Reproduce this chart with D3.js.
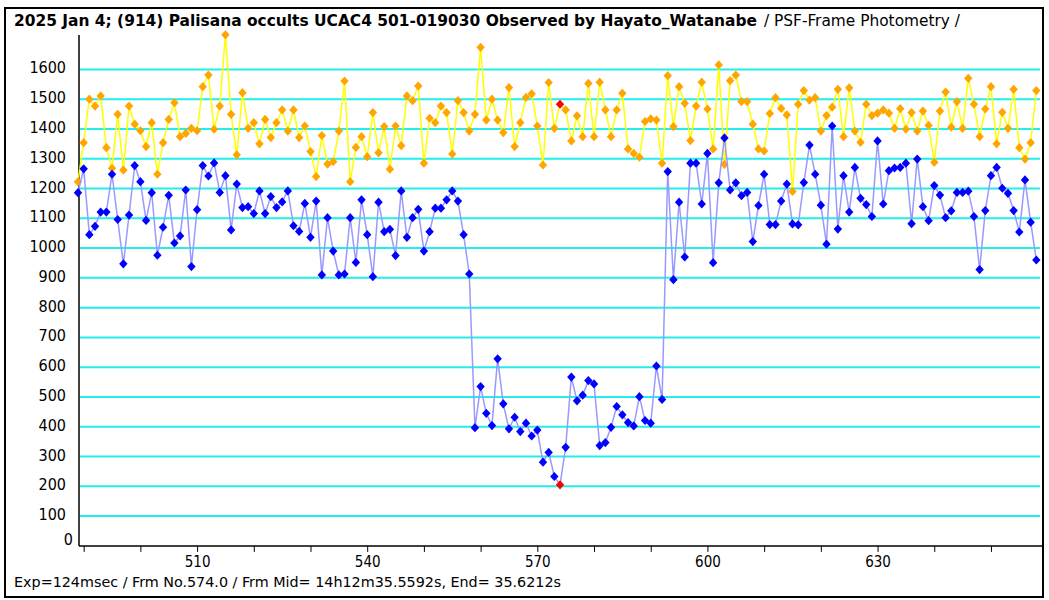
<!DOCTYPE html>
<html>
<head>
<meta charset="utf-8">
<script src="https://cdn.jsdelivr.net/npm/d3@7"></script>
<style>
  body { margin: 0; background: #fff; }
  text { font-family: "DejaVu Sans Condensed", "DejaVu Sans", sans-serif; fill: #000; }
</style>
</head>
<body>
<script>
// frames 489 .. 658, one value per frame
var firstFrame = 489;
var markFrame = 574;                       // highlighted frame (red)

var blueFlux = [
    1186,1266,1045,1073,1121,1121,1248,1096,947,1111,1277,1223,1093,1186,976,1070,1177,1017,1041,1195,
    938,1129,1277,1242,1286,1187,1243,1061,1215,1136,1139,1116,1192,1116,1173,1136,1155,1192,1075,1056,
    1150,1036,1158,910,1102,990,910,913,1102,952,1162,1045,904,1154,1055,1063,975,1192,1036,1102,
    1130,990,1055,1134,1134,1162,1192,1158,1045,913,397,535,445,404,628,477,393,432,384,412,
    369,389,281,314,233,205,331,567,487,506,555,544,337,347,398,468,440,414,403,501,
    421,412,604,492,1257,894,1154,970,1285,1285,1148,1318,951,1219,1370,1195,1219,1176,1187,1022,
    1143,1248,1079,1079,1158,1215,1081,1078,1220,1346,1248,1144,1013,1410,1064,1243,1121,1271,1167,1146,
    1106,1360,1148,1260,1269,1271,1285,1082,1299,1139,1092,1210,1178,1102,1125,1187,1187,1191,1106,928,
    1126,1243,1271,1201,1184,1126,1054,1229,1087,960
];

var orangeFlux = [
    1223,1354,1500,1477,1511,1337,1268,1449,1262,1477,1416,1394,1341,1421,1248,1354,1432,1488,1374,1385,
    1402,1394,1542,1581,1399,1477,1716,1449,1313,1522,1402,1421,1350,1432,1371,1421,1464,1393,1464,1371,
    1410,1324,1240,1378,1282,1290,1393,1561,1223,1338,1374,1307,1455,1320,1408,1265,1410,1344,1511,1495,
    1544,1285,1436,1421,1477,1455,1316,1495,1455,1393,1449,1674,1430,1500,1430,1388,1539,1341,1421,1506,
    1518,1410,1279,1556,1402,1483,1464,1360,1444,1374,1553,1374,1557,1464,1374,1464,1520,1333,1318,1305,
    1425,1434,1430,1285,1579,1408,1542,1486,1361,1477,1557,1467,1333,1615,1281,1562,1581,1492,1492,1416,
    1333,1326,1452,1505,1469,1447,1190,1483,1529,1497,1505,1393,1445,1473,1533,1374,1538,1393,1355,1483,
    1445,1453,1464,1453,1402,1468,1399,1455,1393,1460,1412,1288,1460,1524,1406,1492,1402,1570,1483,1374,
    1467,1542,1350,1456,1402,1533,1337,1299,1354,1529
];

var yTickValues = [0,100,200,300,400,500,600,700,800,900,1000,1100,1200,1300,1400,1500,1600];
var xTickValues = [490,500,510,520,530,540,550,560,570,580,590,600,610,620,630,640,650];
var xTickLabels = [510,540,570,600,630];

var titleBold = "2025 Jan 4; (914) Palisana occults UCAC4 501-019030 Observed by Hayato_Watanabe";
var titleRest = "/ PSF-Frame Photometry /";
var footer = "Exp=124msec / Frm No.574.0 / Frm Mid= 14h12m35.5592s,  End= 35.6212s";

window.onload = function(){

    var w = 1049, h = 600;
    var axisX = 79, axisY = 545.9;

    var svg = d3.select("body")
        .append("svg")
        .attr("width", w)
        .attr("height", h);

    // outer frame
    svg.append("rect")
        .attr("x", 5).attr("y", 8)
        .attr("width", 1038).attr("height", 589)
        .attr("fill", "#fff")
        .attr("stroke", "#000")
        .attr("stroke-width", 2);

    var x = d3.scaleLinear()
        .domain([firstFrame, firstFrame + 170])
        .range([78, 1042]);

    var y = d3.scaleLinear()
        .domain([0, 1600])
        .range([axisY, 69.4]);

    // horizontal grid
    svg.selectAll(".grid")
        .data(yTickValues.filter(function(d){ return d > 0; }))
        .enter()
        .append("line")
        .attr("class", "grid")
        .attr("x1", axisX + 1)
        .attr("x2", 1040)
        .attr("y1", function(d){ return y(d); })
        .attr("y2", function(d){ return y(d); })
        .attr("stroke", "#22EEEE")
        .attr("stroke-width", 2);

    // y labels
    svg.selectAll(".ylab")
        .data(yTickValues)
        .enter()
        .append("text")
        .attr("class", "ylab")
        .attr("text-anchor", "end")
        .attr("x", function(d){ return d === 0 ? 73 : 66; })
        .attr("y", function(d){ return d === 0 ? axisY - 1 : y(d) + 4; })
        .style("font-size", "16px")
        .text(function(d){ return d; });

    // y axis line
    svg.append("line")
        .attr("x1", axisX).attr("x2", axisX)
        .attr("y1", 35).attr("y2", axisY)
        .attr("stroke", "#000")
        .attr("stroke-width", 1.5);

    // x axis
    var xAxis = d3.axisBottom(x)
        .tickValues(xTickValues)
        .tickSize(6)
        .tickSizeOuter(0)
        .tickFormat(function(d){ return xTickLabels.indexOf(d) >= 0 ? d : ""; });

    var xg = svg.append("g")
        .attr("transform", "translate(0," + axisY + ")")
        .call(xAxis);
    xg.select(".domain").attr("stroke-width", 1.5).attr("d", "M" + axisX + ",0H1043");
    xg.selectAll("text")
        .attr("dy", "0.8em")
        .style("font-size", "15px")
        .style("font-family", "'DejaVu Sans Condensed', 'DejaVu Sans', sans-serif");

    var shape = "M0,-4.6L4.2,0L0,4.6L-4.2,0Z";

    function drawSeries(values, lineColor, pointColor){
        var line = d3.line()
            .x(function(d, i){ return x(firstFrame + i); })
            .y(function(d){ return y(d); });

        svg.append("path")
            .datum(values)
            .attr("d", line)
            .attr("fill", "none")
            .attr("stroke", lineColor)
            .attr("stroke-width", 1.5);

        svg.append("g").selectAll("path")
            .data(values)
            .enter()
            .append("path")
            .attr("d", shape)
            .attr("transform", function(d, i){
                return "translate(" + x(firstFrame + i) + "," + y(d) + ")";
            })
            .attr("fill", function(d, i){
                return firstFrame + i === markFrame ? "#FF0000" : pointColor;
            });
    }

    drawSeries(orangeFlux, "#FFFF00", "#FFA500");
    drawSeries(blueFlux, "#9999FF", "#0000FF");

    // title
    svg.append("text")
        .attr("x", 14).attr("y", 26)
        .attr("textLength", 743)
        .attr("lengthAdjust", "spacingAndGlyphs")
        .style("font-size", "15px")
        .style("font-weight", "bold")
        .text(titleBold);

    svg.append("text")
        .attr("x", 764).attr("y", 26)
        .attr("textLength", 196)
        .attr("lengthAdjust", "spacingAndGlyphs")
        .style("font-size", "15px")
        .text(titleRest);

    // footer
    svg.append("text")
        .attr("x", 14).attr("y", 587)
        .attr("textLength", 547)
        .attr("lengthAdjust", "spacingAndGlyphs")
        .style("font-size", "14px")
        .text(footer);
};
</script>
</body>
</html>
